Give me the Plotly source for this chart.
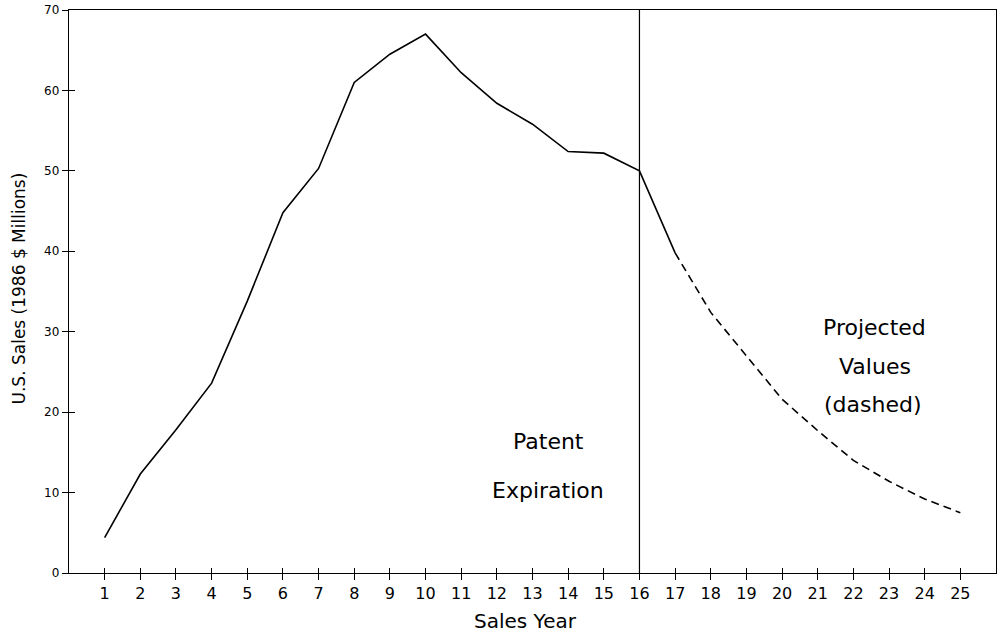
import plotly.graph_objects as go

# ---- data ----
actual_years = list(range(1, 18))
actual_sales = [4.4, 12.3, 17.8, 23.6, 33.8, 44.8, 50.3, 61.0, 64.5, 67.0,
                62.2, 58.4, 55.8, 52.4, 52.2, 50.0, 39.8]
projected_years = list(range(17, 26))
projected_sales = [39.8, 32.4, 27.0, 21.6, 17.7, 14.0, 11.4, 9.2, 7.5]
x_ticks = list(range(1, 26))
y_ticks = [0, 10, 20, 30, 40, 50, 60, 70]
patent_year = 16
x_range = [0, 26]
y_range = [0, 70]

FONT = "DejaVu Sans"
fig = go.Figure()
fig.add_trace(go.Scatter(x=actual_years, y=actual_sales, mode="lines",
                         line=dict(color="black", width=1.6), hoverinfo="skip"))
fig.add_trace(go.Scatter(x=projected_years, y=projected_sales, mode="lines",
                         line=dict(color="black", width=1.6, dash="8px,5px"), hoverinfo="skip"))
# helper invisible trace to activate the overlay axes (inner tick halves)
fig.add_trace(go.Scatter(x=[x_range[0]], y=[y_range[0]], xaxis="x2", yaxis="y2",
                         mode="markers", marker=dict(opacity=0), hoverinfo="skip"))

fig.add_shape(type="line", xref="x", yref="y", x0=patent_year, x1=patent_year,
              y0=y_range[0], y1=y_range[1], line=dict(color="black", width=1.2))

for txt, xx, yy in [("Patent", 13.46, 16.4), ("Expiration", 13.43, 10.2),
                    ("Projected", 22.6, 30.5), ("Values", 22.6, 25.65), ("(dashed)", 22.55, 21.0)]:
    fig.add_annotation(x=xx, y=yy, xref="x", yref="y", text=txt, showarrow=False,
                       font=dict(family=FONT, size=22, color="black"))

# axis titles as annotations for precise placement
fig.add_annotation(x=0.5, y=0, xref="paper", yref="paper", xanchor="center", yanchor="top",
                   xshift=-7, yshift=-34, text="Sales Year", showarrow=False,
                   font=dict(family=FONT, size=20, color="black"))
fig.add_annotation(x=0, y=0.5, xref="paper", yref="paper", xanchor="center", yanchor="middle",
                   xshift=-51, yshift=3, textangle=-90, text="U.S. Sales (1986 $ Millions)",
                   showarrow=False, font=dict(family=FONT, size=17, color="black"))

fig.update_layout(
    width=999, height=635,
    margin=dict(l=69, r=3, t=10, b=62),
    paper_bgcolor="white", plot_bgcolor="white",
    showlegend=False,
    xaxis=dict(range=x_range, tickvals=x_ticks, ticktext=[str(v) for v in x_ticks],
               ticks="outside", ticklen=6, tickwidth=1.2, tickcolor="black",
               showline=True, linecolor="black", linewidth=1.4, mirror=True,
               showgrid=False, zeroline=False, automargin=False,
               tickfont=dict(family=FONT, size=16, color="black")),
    yaxis=dict(range=y_range, tickvals=y_ticks, ticktext=[str(v) for v in y_ticks],
               ticks="outside", ticklen=6, tickwidth=1.2, tickcolor="black",
               showline=True, linecolor="black", linewidth=1.4, mirror=True,
               showgrid=False, zeroline=False, automargin=False,
               tickfont=dict(family=FONT, size=12, color="black")),
    xaxis2=dict(range=x_range, overlaying="x", anchor="y2", tickvals=x_ticks,
                ticks="inside", ticklen=5, tickwidth=1.2, tickcolor="black", automargin=False,
                showticklabels=False, showline=False, showgrid=False, zeroline=False, side="bottom"),
    yaxis2=dict(range=y_range, overlaying="y", anchor="x2", tickvals=y_ticks,
                ticks="inside", ticklen=6, tickwidth=1.2, tickcolor="black", automargin=False,
                showticklabels=False, showline=False, showgrid=False, zeroline=False, side="left"),
)

fig.write_html("out.html", config={"displayModeBar": False},
               post_script="document.body.style.margin='0px';document.body.style.overflow='hidden';")
